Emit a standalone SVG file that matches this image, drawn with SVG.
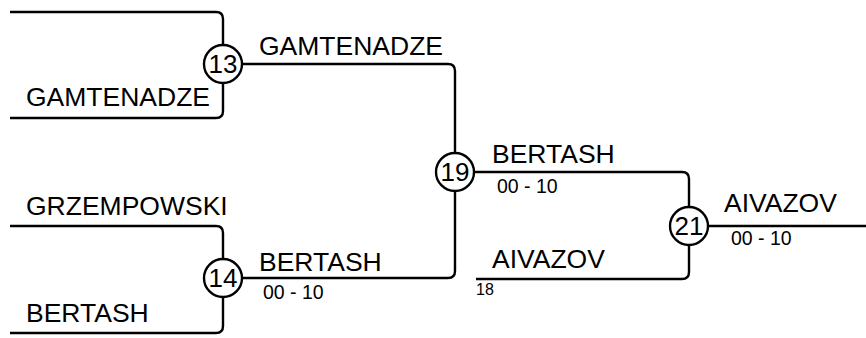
<svg xmlns="http://www.w3.org/2000/svg" width="866" height="338" viewBox="0 0 866 338">
<style>
.ln{fill:none;stroke:#000;stroke-width:2.4}
.nd{fill:#fff;stroke:#000;stroke-width:2.4}
.num{font-family:"Liberation Sans",Arial,sans-serif;font-size:26px;text-anchor:middle;fill:#000}
.nm{font-family:"Liberation Sans",Arial,sans-serif;font-size:26.5px;fill:#000}
.sc{font-family:"Liberation Sans",Arial,sans-serif;font-size:19.5px;fill:#000}
.sm{font-family:"Liberation Sans",Arial,sans-serif;font-size:16px;fill:#000}
</style>
<rect width="866" height="338" fill="#fff"/>
<g id="connectors">
<path class="ln" d="M10,12 H216 Q223,12 223,19 V45"/>
<path class="ln" d="M10,118 H216 Q223,118 223,111 V83"/>
<path class="ln" d="M242,64 H448 Q455,64 455,71 V153"/>
<path class="ln" d="M10,226 H216 Q223,226 223,233 V259"/>
<path class="ln" d="M10,333 H216 Q223,333 223,326 V297"/>
<path class="ln" d="M242,278 H448 Q455,278 455,271 V191"/>
<path class="ln" d="M474,172 H682 Q689,172 689,179 V207"/>
<path class="ln" d="M476,279 H682 Q689,279 689,272 V245"/>
<path class="ln" d="M708,226 H866"/>
</g>
<g id="labels">
<text class="nm" x="26" y="106">GAMTENADZE</text>
<text class="nm" x="259" y="55">GAMTENADZE</text>
<text class="nm" x="26" y="215">GRZEMPOWSKI</text>
<text class="nm" x="26" y="322">BERTASH</text>
<text class="nm" x="259" y="271">BERTASH</text>
<text class="sc" x="263" y="299">00 - 10</text>
<text class="nm" x="492" y="163">BERTASH</text>
<text class="sc" x="497" y="193">00 - 10</text>
<text class="nm" x="492" y="268">AIVAZOV</text>
<text class="sm" x="476" y="295">18</text>
<text class="nm" x="724" y="212">AIVAZOV</text>
<text class="sc" x="731" y="245">00 - 10</text>
</g>
<g id="node-13"><circle class="nd" cx="223" cy="64" r="19"/><text class="num" x="223" y="73.3">13</text></g>
<g id="node-14"><circle class="nd" cx="223" cy="278" r="19"/><text class="num" x="223" y="287.3">14</text></g>
<g id="node-19"><circle class="nd" cx="455" cy="172" r="19"/><text class="num" x="455" y="181.3">19</text></g>
<g id="node-21"><circle class="nd" cx="689" cy="226" r="19"/><text class="num" x="689" y="235.3">21</text></g>
</svg>
